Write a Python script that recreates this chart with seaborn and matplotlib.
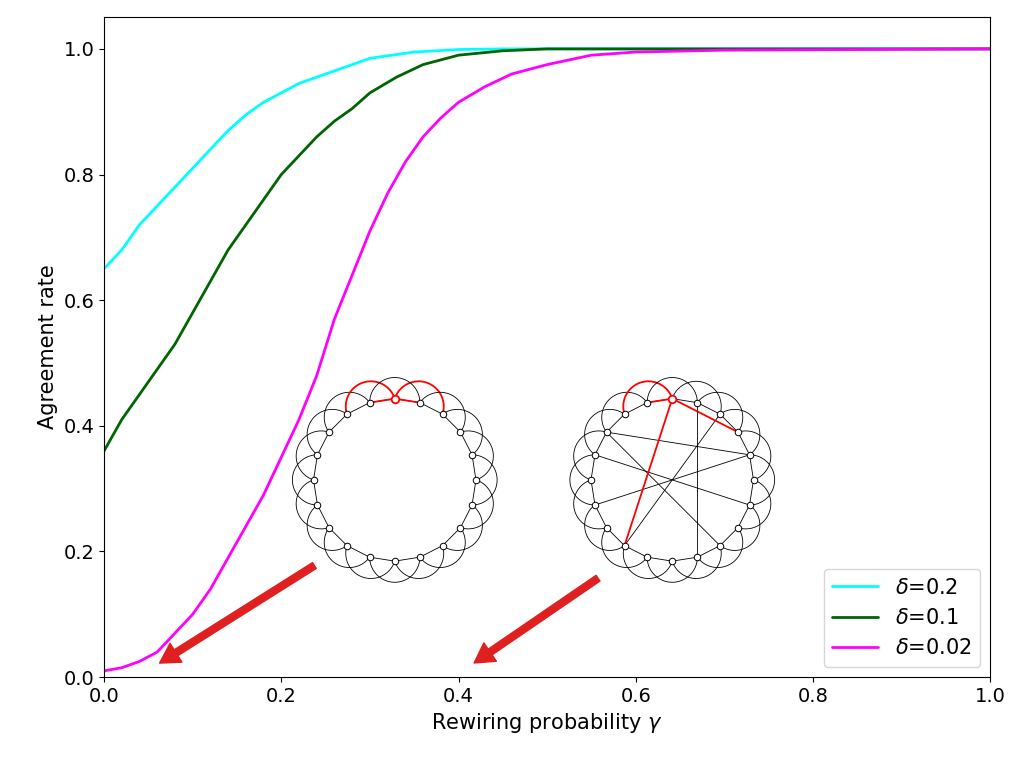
import numpy as np
import matplotlib
matplotlib.use("Agg")
import matplotlib.pyplot as plt
import seaborn as sns
import pandas as pd

# Curve data
gamma_c = [0, 0.02, 0.04, 0.06, 0.08, 0.1, 0.12, 0.14, 0.16, 0.18, 0.2, 0.22, 0.25, 0.28, 0.3, 0.35, 0.4, 0.45, 0.6, 0.8, 1.0]
agree_c = [0.65, 0.68, 0.72, 0.75, 0.78, 0.81, 0.84, 0.87, 0.895, 0.915, 0.93, 0.945, 0.96, 0.975, 0.985, 0.995, 0.999, 1.0, 1.0, 1.0, 1.0]
gamma_g = [0, 0.02, 0.04, 0.06, 0.08, 0.1, 0.12, 0.14, 0.16, 0.18, 0.2, 0.22, 0.24, 0.26, 0.28, 0.3, 0.33, 0.36, 0.4, 0.45, 0.5, 0.7, 1.0]
agree_g = [0.36, 0.41, 0.45, 0.49, 0.53, 0.58, 0.63, 0.68, 0.72, 0.76, 0.80, 0.83, 0.86, 0.885, 0.905, 0.93, 0.955, 0.975, 0.99, 0.997, 1.0, 1.0, 1.0]
gamma_m = [0, 0.02, 0.04, 0.06, 0.08, 0.1, 0.12, 0.14, 0.16, 0.18, 0.2, 0.22, 0.24, 0.26, 0.28, 0.3, 0.32, 0.34, 0.36, 0.38, 0.4, 0.43, 0.46, 0.5, 0.55, 0.6, 0.7, 1.0]
agree_m = [0.01, 0.015, 0.025, 0.04, 0.07, 0.10, 0.14, 0.19, 0.24, 0.29, 0.35, 0.41, 0.48, 0.57, 0.64, 0.71, 0.77, 0.82, 0.86, 0.89, 0.915, 0.94, 0.96, 0.975, 0.99, 0.995, 0.998, 1.0]
labels = [r"$\delta$=0.2", r"$\delta$=0.1", r"$\delta$=0.02"]
colors = ["cyan", "darkgreen", "magenta"]

sns.set_style("ticks")
plt.rcParams.update({"text.color": "black", "axes.labelcolor": "black",
                     "xtick.color": "black", "ytick.color": "black",
                     "axes.edgecolor": "black"})
fig = plt.figure(figsize=(10.24, 7.66), dpi=100)
ax = fig.add_axes([0.1016, 0.116, 0.8654, 0.862])

for g, a, lab, col in zip([gamma_c, gamma_g, gamma_m], [agree_c, agree_g, agree_m], labels, colors):
    sns.lineplot(x=g, y=a, ax=ax, color=col, label=lab, linewidth=2)

ax.set_xlim(0, 1)
ax.set_ylim(0, 1.051)
ax.set_xticks([0, 0.2, 0.4, 0.6, 0.8, 1.0])
ax.set_yticks([0, 0.2, 0.4, 0.6, 0.8, 1.0])
ax.tick_params(labelsize=14)
ax.set_xlabel(r"Rewiring probability $\gamma$", fontsize=15)
ax.set_ylabel("Agreement rate", fontsize=15)
ax.legend(loc="lower right", fontsize=15, handlelength=2.2)

# red arrows pointing at the ends of the gamma axis
arrow = dict(arrowstyle="simple,head_width=1.6,head_length=1.4,tail_width=0.5", color="#e02020")
ax.annotate("", xy=(0.06, 0.02), xytext=(0.24, 0.18), arrowprops=arrow)
ax.annotate("", xy=(0.415, 0.02), xytext=(0.56, 0.16), arrowprops=arrow)


def draw_ring(iax, rewired):
    n = 20
    ang = np.pi / 2 - 2 * np.pi * np.arange(n) / n
    px, py = 0.85 * np.cos(ang), 0.85 * np.sin(ang)
    for i in range(n):
        j = (i + 1) % n
        iax.plot([px[i], px[j]], [py[i], py[j]], color="k", lw=0.6)
        k = (i + 2) % n
        mx, my = (px[i] + px[k]) / 2, (py[i] + py[k]) / 2
        r = np.hypot(px[i] - px[k], py[i] - py[k]) / 2
        a0 = np.arctan2(py[i] - my, px[i] - mx)
        t = np.linspace(a0, a0 - np.pi, 40)
        red = (i in (18, 0)) if not rewired else (i == 18)
        iax.plot(mx + r * np.cos(t), my + r * np.sin(t), color="red" if red else "k", lw=1.3 if red else 0.6)
    if not rewired:
        iax.plot([px[19], px[0], px[1]], [py[19], py[0], py[1]], color="red", lw=1.3)
    else:
        for (a, b) in [(1, 9), (2, 12), (4, 14), (6, 16), (8, 17), (17, 4)]:
            iax.plot([px[a], px[b]], [py[a], py[b]], color="k", lw=0.6)
        for b in (19, 3, 12):
            iax.plot([px[0], px[b]], [py[0], py[b]], color="red", lw=1.3)
    iax.scatter(px, py, s=22, facecolor="white", edgecolor="k", lw=0.7, zorder=3)
    iax.scatter([px[0]], [py[0]], s=30, facecolor="white", edgecolor="red", lw=1.3, zorder=4)
    iax.set_xlim(-1.15, 1.15)
    iax.set_ylim(-1.15, 1.15)
    iax.set_aspect("equal")
    iax.axis("off")


draw_ring(fig.add_axes([0.278, 0.23, 0.215, 0.287]), False)
draw_ring(fig.add_axes([0.549, 0.23, 0.215, 0.287]), True)

fig.savefig("out.png", dpi=100)
